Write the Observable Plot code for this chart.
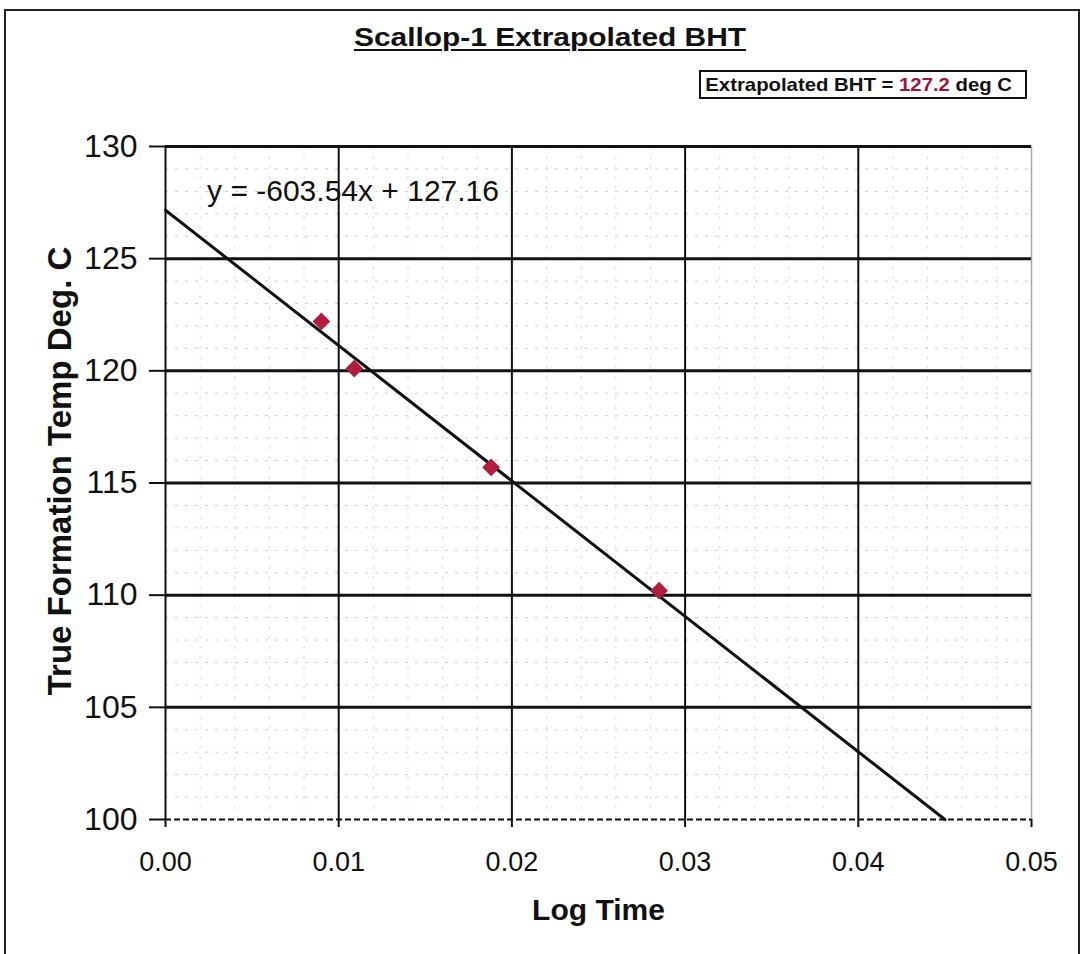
<!DOCTYPE html>
<html>
<head>
<meta charset="utf-8">
<script src="https://cdn.jsdelivr.net/npm/d3@7"></script>
<script src="https://cdn.jsdelivr.net/npm/@observablehq/plot@0.6"></script>
<style>
  html, body { margin: 0; padding: 0; background: #fff; }
  #wrap { position: relative; width: 1087px; height: 954px; overflow: hidden; font-family: "Liberation Sans", Arial, sans-serif; }
  #frame { position: absolute; left: 4px; top: 9px; width: 1076px; height: 960px; border: 2px solid #222; box-sizing: border-box; }
  #title { position: absolute; left: 0; width: 1100px; top: 22px; text-align: center; font-weight: bold; font-size: 26px; text-decoration: underline; text-decoration-thickness: 2px; text-underline-offset: 3px; color: #111; transform: scaleX(1.15); transform-origin: 550px 0; }
  #legend { position: absolute; left: 699px; top: 70px; width: 328px; height: 29px; border: 2px solid #111; box-sizing: border-box; font-weight: bold; font-size: 19px; line-height: 25px; color: #111; white-space: nowrap; }
  #legend span.inner { display: inline-block; transform: scaleX(1.07); transform-origin: 0 0; padding-left: 4px; }
  #legend .val { color: #a0143c; }
  #chart { position: absolute; left: 0; top: 0; }
</style>
</head>
<body>
<div id="wrap">
  <div id="frame"></div>
  <div id="chart"></div>
  <div id="title">Scallop-1 Extrapolated BHT</div>
  <div id="legend"><span class="inner">Extrapolated BHT = <span class="val">127.2</span> deg C</span></div>
</div>
<script>
// Data
const logTime = [0.0090, 0.0109, 0.0188, 0.0285];
const temperature = [122.2, 120.1, 115.7, 110.2];
const slope = -603.54;
const intercept = 127.16;
const equationLabel = ["y = -603.54x + 127.16"];
const xTicks = [0, 0.01, 0.02, 0.03, 0.04, 0.05];
const yTicks = [100, 105, 110, 115, 120, 125, 130];
const xMinor = [0.002,0.004,0.006,0.008,0.012,0.014,0.016,0.018,0.022,0.024,0.026,0.028,0.032,0.034,0.036,0.038,0.042,0.044,0.046,0.048];
const yMinor = [101,102,103,104,106,107,108,109,111,112,113,114,116,117,118,119,121,122,123,124,126,127,128,129];

const points = logTime.map((x, i) => ({x, y: temperature[i]}));
const xEnd = (100 - intercept) / slope;
const trend = [{x: 0, y: intercept}, {x: xEnd, y: 100}];

const chart = Plot.plot({
  width: 1087,
  height: 954,
  marginLeft: 165,
  marginRight: 56,
  marginTop: 146,
  marginBottom: 135,
  x: {domain: [0, 0.05]},
  y: {domain: [100, 130]},
  style: {fontFamily: "'Liberation Sans', Arial, sans-serif", fontSize: "27px", color: "#111", background: "transparent"},
  marks: [
    Plot.ruleY(yMinor, {stroke: "#cfcae0", strokeWidth: 1, strokeDasharray: "3,7"}),
    Plot.ruleX(xMinor, {stroke: "#dcd8e8", strokeWidth: 1, strokeDasharray: "3,7"}),
    Plot.ruleX([0.05], {stroke: "#a9a3c2", strokeWidth: 1.5}),
    Plot.ruleX(xTicks.slice(1, 5), {stroke: "#111", strokeWidth: 2}),
    Plot.ruleY(yTicks.slice(1), {stroke: "#111", strokeWidth: 3}),
    Plot.ruleY([100], {stroke: "#111", strokeWidth: 2, strokeDasharray: "6,3"}),
    Plot.ruleX([0], {stroke: "#111", strokeWidth: 2}),
    Plot.axisY({ticks: yTicks, tickSize: 16, tickPadding: 12, tickFormat: d => String(d), stroke: "#111", strokeWidth: 2, fontSize: 32,
      label: "True Formation Temp Deg. C", labelAnchor: "center", labelArrow: "none", labelOffset: 118}),
    Plot.axisX({ticks: xTicks, tickSize: 8, tickPadding: 24, tickFormat: d => d.toFixed(2), stroke: "#111", strokeWidth: 2,
      label: "Log Time", labelAnchor: "center", labelArrow: "none", labelOffset: 100}),
    Plot.line(trend, {x: "x", y: "y", stroke: "#111", strokeWidth: 3}),
    Plot.dot(points, {x: "x", y: "y", symbol: "diamond2", r: 8, fill: "#b01e3c", stroke: "none"}),
    Plot.text(equationLabel, {x: 0.0024, y: 128.0, text: d => d, textAnchor: "start", fontSize: 30, fill: "#111"})
  ]
});

document.getElementById("chart").appendChild(chart);
chart.querySelectorAll('g[aria-label="y-axis label"] text, g[aria-label="x-axis label"] text').forEach(t => {
  t.setAttribute("font-weight", "bold");
});
chart.querySelectorAll('g[aria-label="y-axis label"] text').forEach(t => t.setAttribute("font-size", "33"));
chart.querySelectorAll('g[aria-label="y-axis label"]').forEach(g => {
  const prev = g.getAttribute("transform") || "";
  g.setAttribute("transform", "translate(0,-12) " + prev);
});
chart.querySelectorAll('g[aria-label="x-axis label"] text').forEach(t => t.setAttribute("font-size", "30"));
</script>
</body>
</html>
